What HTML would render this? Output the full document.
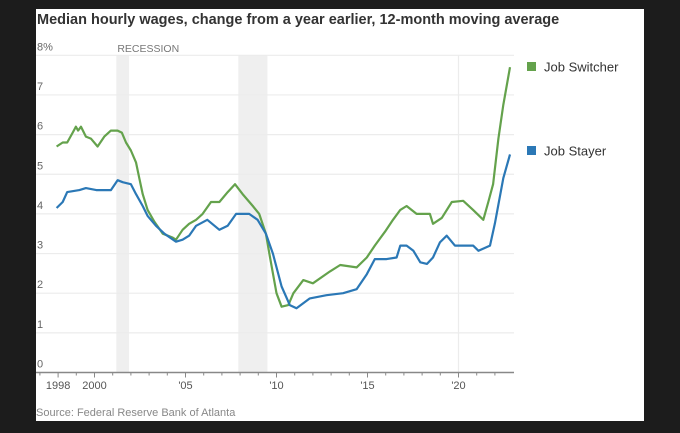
<!DOCTYPE html>
<html><head><meta charset="utf-8"><style>
html,body{margin:0;padding:0;background:#1c1c1c;width:680px;height:433px;overflow:hidden;}
svg{display:block;font-family:"Liberation Sans",sans-serif;}
</style></head><body>
<svg id="chart" width="680" height="433">
<rect x="36" y="9" width="608" height="412" fill="#fff"/>
<text x="37" y="24" font-size="14.5" font-weight="bold" fill="#333">Median hourly wages, change from a year earlier, 12-month moving average</text>
<text x="36" y="416" font-size="11" fill="#888">Source: Federal Reserve Bank of Atlanta</text>
</svg>
<script>
const yearTicks=[1998,2000,2005,2010,2015,2020];
const yearLabels=["1998","2000","'05","'10","'15","'20"];
const valueTicks=[0,1,2,3,4,5,6,7,8];
const valueLabels=["0","1","2","3","4","5","6","7","8%"];
const recessions=[[2001.2,2001.9],[2007.9,2009.5]];
const switcherYears=[1997.92,1998.25,1998.5,1998.8,1998.98,1999.1,1999.26,1999.53,1999.8,2000.17,2000.54,2000.9,2001.27,2001.5,2001.73,2002.0,2002.28,2002.46,2002.65,2002.92,2003.29,2003.75,2004.3,2004.48,2004.84,2005.2,2005.58,2005.94,2006.4,2006.86,2007.32,2007.72,2008.14,2008.7,2009.05,2009.42,2009.64,2010.0,2010.28,2010.65,2010.93,2011.47,2012.0,2012.94,2013.5,2014.4,2014.96,2015.4,2015.96,2016.4,2016.8,2017.15,2017.7,2018.43,2018.6,2019.08,2019.63,2020.26,2020.8,2021.36,2021.64,2021.9,2022.19,2022.46,2022.83];
const switcherValues=[5.7,5.8,5.8,6.05,6.2,6.1,6.2,5.95,5.9,5.7,5.95,6.1,6.1,6.05,5.8,5.6,5.3,4.9,4.5,4.1,3.8,3.5,3.4,3.35,3.6,3.75,3.85,4.0,4.3,4.3,4.55,4.75,4.5,4.2,4.0,3.5,2.92,2.0,1.66,1.7,2.0,2.33,2.25,2.55,2.71,2.65,2.9,3.2,3.55,3.85,4.1,4.2,4.0,4.0,3.75,3.9,4.3,4.33,4.1,3.85,4.3,4.75,5.9,6.75,7.7];
const stayerYears=[1997.92,1998.25,1998.5,1999.17,1999.53,2000.1,2000.9,2001.27,2001.55,2002.0,2002.28,2002.65,2002.92,2003.38,2003.84,2004.48,2004.84,2005.2,2005.58,2006.2,2006.86,2007.32,2007.78,2008.5,2008.96,2009.42,2009.8,2010.28,2010.73,2011.1,2011.83,2012.75,2013.66,2014.4,2014.96,2015.4,2016.05,2016.6,2016.8,2017.15,2017.52,2017.9,2018.27,2018.6,2018.98,2019.35,2019.8,2020.8,2021.1,2021.73,2022.0,2022.46,2022.83];
const stayerValues=[4.15,4.3,4.55,4.6,4.65,4.6,4.6,4.85,4.8,4.75,4.5,4.2,3.95,3.7,3.5,3.3,3.35,3.45,3.7,3.85,3.6,3.7,4.0,4.0,3.85,3.5,3.0,2.17,1.7,1.62,1.87,1.95,2.0,2.1,2.48,2.86,2.86,2.9,3.2,3.2,3.07,2.78,2.74,2.9,3.28,3.45,3.2,3.2,3.07,3.2,3.76,4.9,5.5];

const NS="http://www.w3.org/2000/svg";
const svg=document.getElementById('chart');
const X=y=>94.5+(y-2000)*18.2;
const Y=v=>372.5-v*39.65;
function mk(tag,attrs,parent){const e=document.createElementNS(NS,tag);for(const k in attrs)e.setAttribute(k,attrs[k]);(parent||svg).appendChild(e);return e;}

recessions.forEach(r=>{
  const e=mk('rect',{x:X(r[0]),y:Y(8),width:X(r[1])-X(r[0]),height:Y(0)-Y(8),fill:'#efefef'});
  
  
});
const rl=mk('text',{x:X(2001.2)+1,y:52,'font-size':10.5,fill:'#777'});
rl.textContent='RECESSION';



valueTicks.forEach((v,i)=>{
  if(v>0){const g=mk('line',{x1:36,x2:514,y1:Y(v),y2:Y(v),stroke:'#ececec','stroke-width':1.2});
  
  }
  const t=mk('text',{x:37,y:Y(v)-5,'font-size':11,fill:'#666'});
  t.textContent=valueLabels[i];
  
  
});
const vg=mk('line',{x1:X(2020),x2:X(2020),y1:Y(8),y2:Y(0),stroke:'#ececec','stroke-width':1.2});



const ax=mk('line',{x1:36,x2:514,y1:Y(0),y2:Y(0),stroke:'#888','stroke-width':1.5});


for(let yr=1997;yr<=2022;yr++){
  const major=yearTicks.includes(yr);
  const tk=mk('line',{x1:X(yr),x2:X(yr),y1:Y(0),y2:Y(0)+(major?5:3),stroke:'#888','stroke-width':1});
  
  
}
yearTicks.forEach((yr,i)=>{
  const t=mk('text',{x:X(yr),y:389,'font-size':11,fill:'#555','text-anchor':'middle'});
  t.textContent=yearLabels[i];
  
  
});

function line(xs,vs,color,name){
  const p=mk('polyline',{points:xs.map((x,i)=>X(x).toFixed(1)+','+Y(vs[i]).toFixed(1)).join(' '),fill:'none',stroke:color,'stroke-width':2.2,'stroke-linejoin':'round'});
  
  
}
line(switcherYears,switcherValues,'#64a24c','job-switcher-line');
line(stayerYears,stayerValues,'#2b78b6','job-stayer-line');

[['Job Switcher','#64a24c',68,'legend-entry-switcher'],['Job Stayer','#2b78b6',152,'legend-entry-stayer']].forEach(l=>{
  const s=mk('rect',{x:527,y:l[2]-6,width:9,height:9,fill:l[1]});
  
  
  const t=mk('text',{x:544,y:l[2]+3.5,'font-size':13,fill:'#333'});
  t.textContent=l[0];
  
  
});
</script>
</body></html>
